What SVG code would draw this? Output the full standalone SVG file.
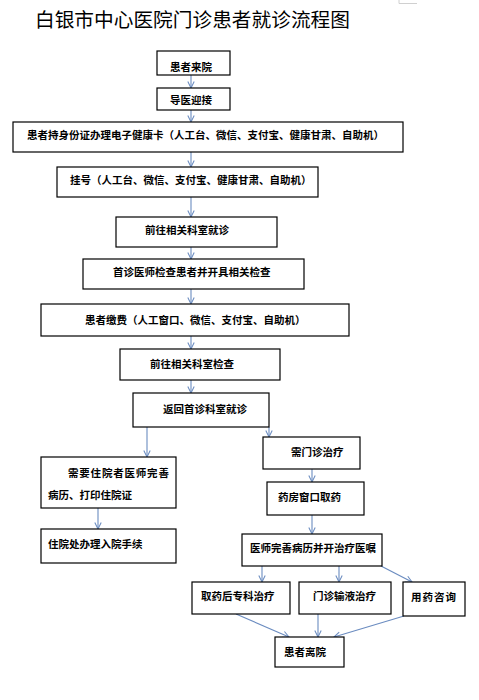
<svg xmlns="http://www.w3.org/2000/svg" width="479" height="700" viewBox="0 0 479 700">
<defs>
<marker id="ah" viewBox="0 0 10 10" refX="9" refY="5" markerWidth="8" markerHeight="8" markerUnits="userSpaceOnUse" orient="auto">
<path d="M1,1 L9,5 L1,9" fill="none" stroke="#6b8cc0" stroke-width="1.3"/>
</marker>
<style>
.b{fill:#fff;stroke:#000;stroke-width:1.2}
.t{font-family:"Noto Sans CJK SC","Noto Sans CJK TC",sans-serif;font-size:10.5px;font-weight:bold;fill:#000}
.c{fill:none;stroke:#6b8cc0;stroke-width:1.1;marker-end:url(#ah)}
</style>
</defs>
<rect width="479" height="700" fill="#fff"/>
<path d="M399,0 V3.5 H417" fill="none" stroke="#d0d0d0" stroke-width="1"/>
<text x="35" y="27" style="font-family:'Noto Sans CJK SC',sans-serif;font-size:19.7px;fill:#000">白银市中心医院门诊患者就诊流程图</text>
<g id="connectors">
<line class="c" x1="191" y1="75" x2="191" y2="88"/>
<line class="c" x1="191" y1="110" x2="191" y2="122"/>
<line class="c" x1="191" y1="152" x2="191" y2="167"/>
<line class="c" x1="191" y1="197" x2="191" y2="217"/>
<line class="c" x1="191" y1="247" x2="191" y2="259"/>
<line class="c" x1="191" y1="289" x2="191" y2="304"/>
<line class="c" x1="191" y1="336" x2="191" y2="349"/>
<line class="c" x1="191" y1="380" x2="191" y2="393"/>
<line class="c" x1="147" y1="427" x2="147" y2="457"/>
<line class="c" x1="269" y1="427" x2="269" y2="437"/>
<line class="c" x1="312" y1="469" x2="312" y2="482"/>
<line class="c" x1="98" y1="508" x2="98" y2="529"/>
<line class="c" x1="312" y1="515" x2="312" y2="534"/>
<line class="c" x1="262" y1="566" x2="262" y2="582"/>
<line class="c" x1="339" y1="566" x2="339" y2="582"/>
<line class="c" x1="381" y1="566" x2="412" y2="582"/>
<line class="c" x1="236" y1="614" x2="289" y2="637"/>
<line class="c" x1="318" y1="614" x2="318" y2="637"/>
<line class="c" x1="404" y1="616" x2="334" y2="637"/>
</g>
<g id="n1"><rect class="b" x="157" y="51" width="73" height="24"/><text class="t" x="170" y="71">患者来院</text></g>
<g id="n2"><rect class="b" x="157" y="88" width="73" height="22"/><text class="t" x="170" y="104">导医迎接</text></g>
<g id="n3"><rect class="b" x="13" y="122" width="390" height="30"/><text class="t" x="27" y="139">患者持身份证办理电子健康卡（人工台、微信、支付宝、健康甘肃、自助机）</text></g>
<g id="n4"><rect class="b" x="57" y="167" width="261" height="30"/><text class="t" x="70" y="184">挂号（人工台、微信、支付宝、健康甘肃、自助机）</text></g>
<g id="n5"><rect class="b" x="116" y="217" width="161" height="30"/><text class="t" x="145" y="234">前往相关科室就诊</text></g>
<g id="n6"><rect class="b" x="83" y="259" width="221" height="30"/><text class="t" x="113" y="276">首诊医师检查患者并开具相关检查</text></g>
<g id="n7"><rect class="b" x="41" y="304" width="308" height="32"/><text class="t" x="85" y="324">患者缴费（人工窗口、微信、支付宝、自助机）</text></g>
<g id="n8"><rect class="b" x="120" y="349" width="160" height="31"/><text class="t" x="150" y="368">前往相关科室检查</text></g>
<g id="n9"><rect class="b" x="133" y="393" width="136" height="34"/><text class="t" x="163" y="413">返回首诊科室就诊</text></g>
<g id="n10"><rect class="b" x="263" y="437" width="97" height="32"/><text class="t" x="291" y="456">需门诊治疗</text></g>
<g id="n11"><rect class="b" x="41" y="457" width="135" height="51"/><text class="t" x="68" y="477" letter-spacing="0.8">需要住院者医师完善</text><text class="t" x="48" y="499">病历、打印住院证</text></g>
<g id="n12"><rect class="b" x="267" y="482" width="97" height="33"/><text class="t" x="278" y="501">药房窗口取药</text></g>
<g id="n13"><rect class="b" x="41" y="529" width="135" height="34"/><text class="t" x="48" y="548">住院处办理入院手续</text></g>
<g id="n14"><rect class="b" x="242" y="534" width="140" height="32"/><text class="t" x="250" y="552">医师完善病历并开治疗医嘱</text></g>
<g id="n15"><rect class="b" x="192" y="582" width="98" height="32"/><text class="t" x="201" y="600">取药后专科治疗</text></g>
<g id="n16"><rect class="b" x="299" y="582" width="92" height="32"/><text class="t" x="313" y="600">门诊输液治疗</text></g>
<g id="n17"><rect class="b" x="403" y="582" width="62" height="34"/><text class="t" x="411" y="601" letter-spacing="1">用药咨询</text></g>
<g id="n18"><rect class="b" x="275" y="637" width="69" height="30"/><text class="t" x="284" y="656">患者离院</text></g>
</svg>
